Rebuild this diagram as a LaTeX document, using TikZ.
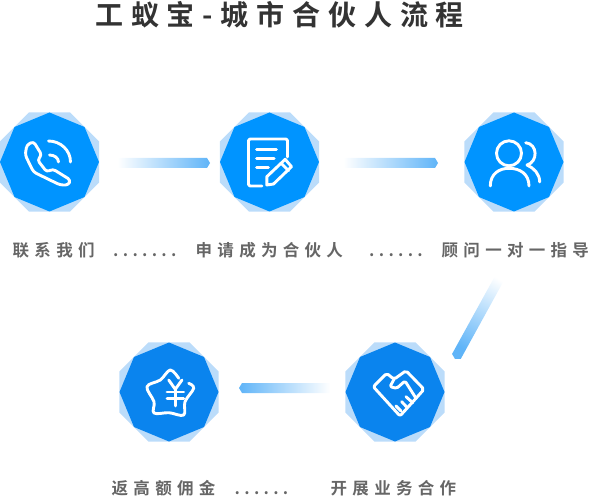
\documentclass[tikz,border=0pt]{standalone}
\usepackage{fontspec}
\usepackage{tikz}
\usetikzlibrary{shapes.geometric,calc}
\newfontfamily\labelfont[LetterSpace=32,BoldFont={Noto Sans CJK SC Bold}]{Noto Sans CJK SC}
\newfontfamily\dotsfont[LetterSpace=26,BoldFont={Noto Sans CJK SC Bold}]{Noto Sans CJK SC}
\newfontfamily\titlefont[LetterSpace=28,BoldFont={Noto Sans CJK SC Bold}]{Noto Sans CJK SC}
\definecolor{topblue}{HTML}{0094FF}
\definecolor{lowblue}{HTML}{0A84EE}
\definecolor{paleblue}{HTML}{BBDCFA}
\definecolor{barblue}{HTML}{5FB4F8}
\definecolor{labelgray}{HTML}{666666}
\definecolor{titlegray}{HTML}{333333}
% one connector: from the pale end to the pointed end
\newcommand{\gradbar}[3]{
  \coordinate (sh) at ($(#2)!3pt!(#1)$);
  \shade[left color=white, right color=barblue, shading angle=#3]
    ($(#1)!5pt!90:(#2)$) -- ($(sh)!5pt!-90:(#1)$) -- (#2) -- ($(sh)!5pt!90:(#1)$) -- ($(#1)!5pt!-90:(#2)$) -- cycle;
}
\begin{document}
\begin{tikzpicture}[
  x=1pt, y=-1pt,
  octback/.style={regular polygon, regular polygon sides=8, fill=paleblue, inner sep=0pt, outer sep=0pt, minimum size=107.2pt},
  octfront/.style={regular polygon, regular polygon sides=8, shape border rotate=22.5, fill=#1, inner sep=0pt, outer sep=0pt, minimum size=99pt},
  octfront/.default=topblue,
  steplabel/.style={text=labelgray, inner sep=0pt, anchor=base west, font=\labelfont\bfseries\fontsize{16.5}{16.5}\selectfont},
  stepdots/.style={text=labelgray, inner sep=0pt, anchor=base west, font=\dotsfont\bfseries\fontsize{16.5}{16.5}\selectfont},
  icon/.style={draw=white, line width=2.9pt, line cap=round, line join=round}
]
\useasboundingbox (0,0) rectangle (589,497);

\node [anchor=west, inner sep=0pt, text=titlegray, font=\titlefont\bfseries\fontsize{28}{28}\selectfont] (title) at (95,15) {工蚁宝-城市合伙人流程};

\node [octback] (call) at (49.5,162) {};
\node [octback, right of=call, node distance=220pt] (apply) {};
\node [octback, right of=apply, node distance=244.5pt] (advisor) {};
\node [octback, below of=advisor, node distance=230pt, xshift=-119pt] (partner) {};
\node [octback, left of=partner, node distance=226pt] (rebate) {};

\node [octfront] (callf) at (call) {};
\node [octfront] (applyf) at (apply) {};
\node [octfront] (advisorf) at (advisor) {};
\node [octfront=lowblue] (partnerf) at (partner) {};
\node [octfront=lowblue] (rebatef) at (rebate) {};

\node [steplabel] (calltext) at (12.5,256) {联系我们};
\node [stepdots] (calldots) at (113,256.5) {.......};
\node [steplabel] (applytext) at (195.5,256) {申请成为合伙人};
\node [stepdots] (applydots) at (369,256.5) {......};
\node [steplabel] (advisortext) at (441.5,256) {顾问一对一指导};
\node [steplabel] (rebatetext) at (111.5,494) {返高额佣金};
\node [stepdots] (rebatedots) at (234.5,494.5) {......};
\node [steplabel] (partnertext) at (330.5,494) {开展业务合作};

% connectors
\coordinate (bara) at ($(call)+(68,1)$);
\coordinate (barb) at ($(apply)+(-59.5,1)$);
\coordinate (barc) at ($(apply)+(74,1)$);
\coordinate (bard) at ($(advisor)+(-76,1)$);
\coordinate (bare) at ($(advisor)+(-10,108)$);
\coordinate (barf) at ($(partner)+(60,-33)$);
\coordinate (barg) at ($(partner)+(-65,-4)$);
\coordinate (barh) at ($(rebate)+(70,-4)$);
\gradbar{bara}{barb}{90}
\gradbar{barc}{bard}{90}
\gradbar{bare}{barf}{-30}
\gradbar{barg}{barh}{-90}

% phone
\begin{scope}[shift={(call)}]
\draw [icon, rounded corners=3pt] (-22.7,-17) -- (-16,-20.5) -- (-7.7,-7) -- (-12,-2) -- (-2.7,10) -- (3.3,7) -- (21,18) -- (19,23) -- (10.7,23) -- (-16,10) -- (-24.3,-7) -- cycle;
\draw [icon] (-1,-21) arc (-90:0:22 and 21);
\draw [icon] (0,-7) arc (-90:0:9 and 7);
\end{scope}
% note and pencil
\begin{scope}[shift={(apply)}]
\draw [icon, rounded corners=2pt] (18,-5) -- (18,-23) -- (-21,-23) -- (-21,24) -- (-7.7,24);
\draw [icon] (-13,-12.7) -- (7,-12.7);
\draw [icon] (-13,-3.7) -- (4.7,-3.7);
\draw [icon] (-13,5.7) -- (-1,5.7);
\draw [icon] (-2.7,23) -- (-2.7,14.7) -- (15.7,-2.7) -- (22,4.7) -- (4,22) -- cycle;
\draw [icon] (11.7,1.3) -- (19,8.7);
\end{scope}
% two people
\begin{scope}[shift={(advisor)}]
\draw [icon] (-5,-8.7) circle (12.5);
\draw [icon] (-23.7,24) .. controls (-23.7,12) and (-15,6.3) .. (-5,6.3) .. controls (6,6.3) and (15,12) .. (15,24);
\draw [icon] (11.7,-19.3) .. controls (24,-18) and (24,0) .. (13,3) .. controls (20,6) and (25.7,12) .. (25.7,20);
\end{scope}
% handshake
\begin{scope}[shift={(partner)}]
\draw [icon, rounded corners=2pt] (-21.7,-5.3) -- (-8.3,-18.7) -- (-1,-12.7) -- (11,-21.3) -- (29,-2.7) -- (21,6.3) -- (5,24) -- cycle;
\draw [icon, rounded corners=1.5pt] (-1,-12.7) -- (-5,-5.3) -- (1.7,-3.7) -- (10,-11) -- (21,6.3);
\draw [icon] (1,14) -- (6,19);
\draw [icon] (6.7,9.7) -- (12,15.3);
\draw [icon] (11,4.7) -- (17.7,10.7);
\end{scope}
% star and yen
\begin{scope}[shift={(rebate)}]
\draw [icon] plot [smooth, tension=0.6] coordinates {(9.7,-13.7) (1.3,-22) (-8.7,-12) (-22,-5.3) (-15,9.7) (-15,21) (0,20.7) (14.7,23) (16,9.7) (24.7,-3.7) (19.7,-8.7)};
\draw [icon] (-0.3,-12) -- (6.3,-2.7) -- (13,-12);
\draw [icon] (-2,0) -- (14.7,0);
\draw [icon] (-2,6.3) -- (14.7,6.3);
\draw [icon] (6.3,-2.7) -- (6.3,14);
\end{scope}
\end{tikzpicture}
\end{document}
